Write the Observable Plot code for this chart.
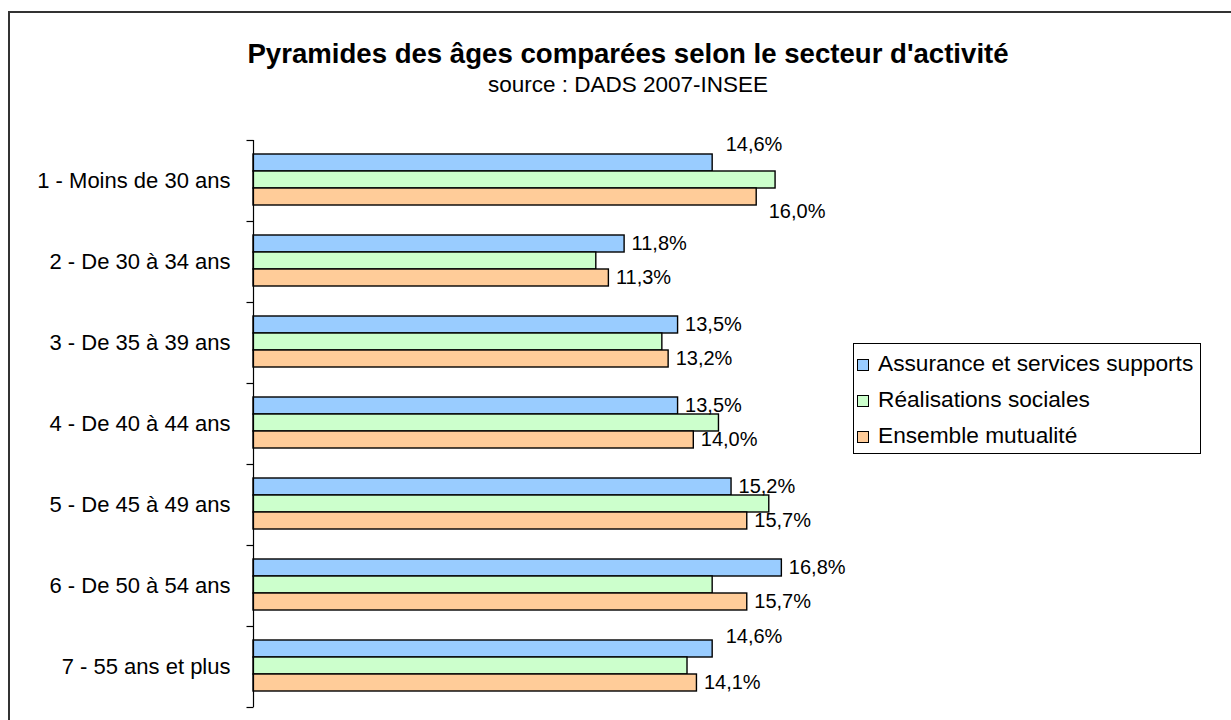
<!DOCTYPE html>
<html>
<head>
<meta charset="utf-8">
<script src="https://cdn.jsdelivr.net/npm/d3@7"></script>
<script src="https://cdn.jsdelivr.net/npm/@observablehq/plot@0.6"></script>
<style>
  html, body { margin: 0; padding: 0; background: #fff; }
  #wrap { position: relative; width: 1231px; height: 720px; overflow: hidden; font-family: "Liberation Sans", Arial, sans-serif; color: #000; }
  #frame { position: absolute; left: 8px; top: 11px; width: 1400px; height: 900px; border-left: 2px solid #333; border-top: 2px solid #333; }
  #title { position: absolute; left: 0; top: 38px; width: 1256px; text-align: center; font-weight: bold; font-size: 27.6px; line-height: 32px; }
  #subtitle { position: absolute; left: 0; top: 72px; width: 1256px; text-align: center; font-size: 22.5px; line-height: 25px; }
  #chart { position: absolute; left: 0; top: 0; }
  #legend { position: absolute; left: 853px; top: 343px; width: 346px; height: 109px; border: 1px solid #000; background: #fff; }
  .item { position: absolute; left: 3px; height: 24px; font-size: 22.7px; line-height: 24px; white-space: nowrap; }
  .sw { display: inline-block; width: 10px; height: 10px; border: 1px solid #000; margin-right: 9px; vertical-align: 0px; }
</style>
</head>
<body>
<div id="wrap">
  <div id="frame"></div>
  <div id="chart"></div>
  <div id="title">Pyramides des âges comparées selon le secteur d'activité</div>
  <div id="subtitle">source : DADS 2007-INSEE</div>
  <div id="legend"></div>
</div>
<script>
const categories = [
  "1 - Moins de 30 ans",
  "2 - De 30 à 34 ans",
  "3 - De 35 à 39 ans",
  "4 - De 40 à 44 ans",
  "5 - De 45 à 49 ans",
  "6 - De 50 à 54 ans",
  "7 - 55 ans et plus"
];
const series = ["Assurance et services supports", "Réalisations sociales", "Ensemble mutualité"];
const assurance = [14.6, 11.8, 13.5, 13.5, 15.2, 16.8, 14.6];
const realisations = [16.6, 10.9, 13.0, 14.8, 16.4, 14.6, 13.8];
const ensemble = [16.0, 11.3, 13.2, 14.0, 15.7, 15.7, 14.1];
const colors = ["#99CCFF", "#CCFFCC", "#FFCC99"];
const labelledSeries = [series[0], series[2]];

const values = [assurance, realisations, ensemble];
const data = [];
categories.forEach((c, i) => {
  series.forEach((s, j) => {
    data.push({cat: c, ci: i, series: s, value: values[j][i]});
  });
});

const fmt = v => v.toFixed(1).replace(".", ",") + "%";

const tickSymbol = {
  draw(context, size) {
    const r = Math.sqrt(size / Math.PI);
    context.moveTo(-r, 0);
    context.lineTo(0, 0);
  }
};

const labelData = data.filter(d => labelledSeries.includes(d.series));
const blue = labelData.filter(d => d.series === series[0]);
const orange = labelData.filter(d => d.series === series[2]);
const first = categories[0], last = categories[categories.length - 1];

const txt = (arr, opts) => Plot.text(arr, {
  x: "value", y: "series", fy: "cat", text: d => fmt(d.value),
  textAnchor: "start", fontSize: 20, fill: "#000", ...opts
});

const plot = Plot.plot({
  width: 1231,
  height: 720,
  marginLeft: 253,
  marginRight: 349,
  marginTop: 139,
  marginBottom: 13,
  style: {fontFamily: "'Liberation Sans', Arial, sans-serif", fontSize: "20px", background: "transparent", color: "#000"},
  x: {domain: [0, 20], axis: null},
  y: {domain: series, axis: null, paddingInner: 0, paddingOuter: 0.8, align: 0.45},
  fy: {domain: categories, padding: 0, label: null},
  color: {domain: series, range: colors},
  marks: [
    Plot.axisFy({anchor: "left", tickSize: 0, tickPadding: 23, fontSize: 22, label: null, fill: "#000"}),
    Plot.barX(data, {x1: 0, x2: "value", y: "series", fy: "cat", fill: "series", stroke: "#000", strokeWidth: 1.4}),
    Plot.ruleX([0], {stroke: "#000", strokeWidth: 1.2}),
    Plot.dot([0], {frameAnchor: "top-left", symbol: tickSymbol, r: 7, stroke: "#000", strokeWidth: 1.2, fill: "none"}),
    Plot.dot([last], {fy: d => d, frameAnchor: "bottom-left", symbol: tickSymbol, r: 7, stroke: "#000", strokeWidth: 1.2, fill: "none"}),
    txt(blue.filter(d => d.cat !== first && d.cat !== last), {dx: 7}),
    txt(blue.filter(d => d.cat === first), {dx: 13, dy: -18}),
    txt(blue.filter(d => d.cat === last), {dx: 13, dy: -12}),
    txt(orange.filter(d => d.cat !== first), {dx: 7}),
    txt(orange.filter(d => d.cat === first), {dx: 12, dy: 15})
  ]
});
document.getElementById("chart").appendChild(plot);

const legend = document.getElementById("legend");
series.forEach((s, j) => {
  const it = document.createElement("div");
  it.className = "item";
  it.style.top = (7 + j * 36) + "px";
  const sw = document.createElement("span");
  sw.className = "sw";
  sw.style.background = colors[j];
  it.appendChild(sw);
  it.appendChild(document.createTextNode(s));
  legend.appendChild(it);
});
</script>
</body>
</html>
